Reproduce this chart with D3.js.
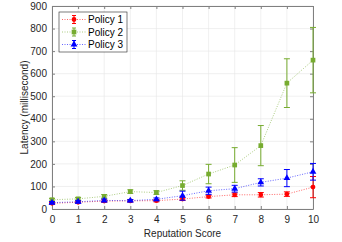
<!DOCTYPE html>
<html>
<head>
<meta charset="utf-8">
<script src="https://cdn.jsdelivr.net/npm/d3@7"></script>
<style>
  body { margin: 0; background: #fff; }
  text { font-family: "Liberation Sans", Arial, sans-serif; }
</style>
</head>
<body>
<div class="chart"></div>
<script>
const scores = [0, 1, 2, 3, 4, 5, 6, 7, 8, 9, 10];
const yTicks = [0, 100, 200, 300, 400, 500, 600, 700, 800, 900];
const policyNames = ['Policy 1', 'Policy 2', 'Policy 3'];

const policy1 = [25, 30, 35, 36, 37, 44, 55, 63, 63, 66, 97];
const policy1Err = [4, 4, 5, 5, 5, 6, 6, 8, 10, 10, 47];
const policy2 = [41, 45, 56, 77, 73, 104, 155, 195, 281, 558, 660];
const policy2Err = [6, 6, 8, 8, 8, 21, 43, 77, 89, 108, 145];
const policy3 = [28, 32, 38, 37, 43, 59, 81, 90, 118, 137, 165];
const policy3Err = [5, 5, 6, 5, 6, 20, 16, 15, 16, 38, 37];

const svgWidth = 342;
const svgHeight = 242;
const margin = { top: 6, right: 29, bottom: 33, left: 52 };
const width = svgWidth - margin.left - margin.right;
const height = svgHeight - margin.top - margin.bottom;

const svg = d3.select('.chart')
  .append('svg')
  .attr('width', svgWidth)
  .attr('height', svgHeight);

const chartGroup = svg.append('g')
  .attr('transform', `translate(${margin.left}, ${margin.top})`);

const x = d3.scaleLinear().domain([0, 10]).range([0, width]);
const y = d3.scaleLinear().domain([0, 900]).range([height, 0]);

// grid
chartGroup.append('g')
  .selectAll('line.vg')
  .data(scores)
  .enter().append('line')
  .attr('x1', d => x(d)).attr('x2', d => x(d))
  .attr('y1', 0).attr('y2', height)
  .attr('stroke', '#e6e6e6').attr('stroke-width', 0.6);
chartGroup.append('g')
  .selectAll('line.hg')
  .data(yTicks)
  .enter().append('line')
  .attr('y1', d => y(d)).attr('y2', d => y(d))
  .attr('x1', 0).attr('x2', width)
  .attr('stroke', '#e6e6e6').attr('stroke-width', 0.6);

// axes
const axisColor = '#262626';
const fontSize = '10px';
const styleAxis = g => {
  g.select('.domain').attr('stroke', '#808080');
  g.selectAll('.tick line').attr('stroke', '#808080');
  g.selectAll('.tick text').attr('fill', axisColor).style('font-size', fontSize)
    .style('font-family', '"Liberation Sans", Arial, sans-serif');
};

chartGroup.append('g')
  .attr('transform', `translate(0, ${height})`)
  .call(d3.axisBottom(x).tickValues(scores).tickSizeInner(-3).tickSizeOuter(0).tickPadding(7))
  .call(styleAxis);
chartGroup.append('g')
  .call(d3.axisLeft(y).tickValues(yTicks).tickSizeInner(-3).tickSizeOuter(0).tickPadding(5))
  .call(styleAxis);
chartGroup.append('g')
  .call(d3.axisTop(x).tickValues(scores).tickSizeInner(-3).tickSizeOuter(0).tickFormat(''))
  .call(styleAxis);
chartGroup.append('g')
  .attr('transform', `translate(${width}, 0)`)
  .call(d3.axisRight(y).tickValues(yTicks).tickSizeInner(-3).tickSizeOuter(0).tickFormat(''))
  .call(styleAxis);

// series
const series = [
  { name: policyNames[0], vals: policy1, errs: policy1Err, color: '#ff0000', shape: d3.symbolCircle, size: 18 },
  { name: policyNames[1], vals: policy2, errs: policy2Err, color: '#77ac30', shape: d3.symbolSquare, size: 22 },
  { name: policyNames[2], vals: policy3, errs: policy3Err, color: '#0000ff', shape: d3.symbolTriangle, size: 20 }
];

const line = d3.line().x((d, i) => x(scores[i])).y(d => y(d));
const capW = 3;

series.forEach(s => {
  const g = chartGroup.append('g');
  g.append('path')
    .datum(s.vals)
    .attr('d', line)
    .attr('fill', 'none')
    .attr('stroke', s.color)
    .attr('stroke-opacity', 0.6)
    .attr('stroke-width', 1)
    .attr('stroke-dasharray', '1,1.5');

  const eb = g.selectAll('g.eb')
    .data(s.vals)
    .enter().append('g');
  eb.append('line')
    .attr('x1', (d, i) => x(scores[i])).attr('x2', (d, i) => x(scores[i]))
    .attr('y1', (d, i) => y(d - s.errs[i])).attr('y2', (d, i) => y(d + s.errs[i]))
    .attr('stroke', s.color).attr('stroke-width', 1);
  eb.append('line')
    .attr('x1', (d, i) => x(scores[i]) - capW).attr('x2', (d, i) => x(scores[i]) + capW)
    .attr('y1', (d, i) => y(d - s.errs[i])).attr('y2', (d, i) => y(d - s.errs[i]))
    .attr('stroke', s.color).attr('stroke-width', 1);
  eb.append('line')
    .attr('x1', (d, i) => x(scores[i]) - capW).attr('x2', (d, i) => x(scores[i]) + capW)
    .attr('y1', (d, i) => y(d + s.errs[i])).attr('y2', (d, i) => y(d + s.errs[i]))
    .attr('stroke', s.color).attr('stroke-width', 1);

  g.selectAll('path.mk')
    .data(s.vals)
    .enter().append('path')
    .attr('transform', (d, i) => `translate(${x(scores[i])}, ${y(d)})`)
    .attr('d', d3.symbol().type(s.shape).size(s.size))
    .attr('fill', s.color);
});

// legend
const legend = svg.append('g').attr('transform', 'translate(59, 12)');
legend.append('rect')
  .attr('width', 68).attr('height', 40)
  .attr('fill', '#fff').attr('stroke', '#262626').attr('stroke-width', 0.6);
series.forEach((s, i) => {
  const ly = 7.5 + i * 12.5;
  const row = legend.append('g').attr('transform', `translate(0, ${ly})`);
  row.append('line')
    .attr('x1', 3).attr('x2', 27).attr('y1', 0).attr('y2', 0)
    .attr('stroke', s.color).attr('stroke-opacity', 0.6)
    .attr('stroke-dasharray', '1,1.5');
  row.append('line')
    .attr('x1', 15).attr('x2', 15).attr('y1', -4).attr('y2', 4)
    .attr('stroke', s.color);
  row.append('line')
    .attr('x1', 13).attr('x2', 17).attr('y1', -4).attr('y2', -4)
    .attr('stroke', s.color);
  row.append('line')
    .attr('x1', 13).attr('x2', 17).attr('y1', 4).attr('y2', 4)
    .attr('stroke', s.color);
  row.append('path')
    .attr('transform', 'translate(15, 0)')
    .attr('d', d3.symbol().type(s.shape).size(s.size))
    .attr('fill', s.color);
  row.append('text')
    .attr('x', 29).attr('y', 3.5)
    .style('font-size', fontSize)
    .attr('fill', '#000')
    .text(s.name);
});

// axis labels
svg.append('text')
  .attr('x', margin.left + width / 2)
  .attr('y', 237)
  .attr('text-anchor', 'middle')
  .attr('fill', axisColor)
  .style('font-size', fontSize)
  .text('Reputation Score');

svg.append('text')
  .attr('transform', `translate(28, ${margin.top + height / 2}) rotate(-90)`)
  .attr('text-anchor', 'middle')
  .attr('fill', axisColor)
  .style('font-size', fontSize)
  .text('Latency (millisecond)');
</script>
</body>
</html>
